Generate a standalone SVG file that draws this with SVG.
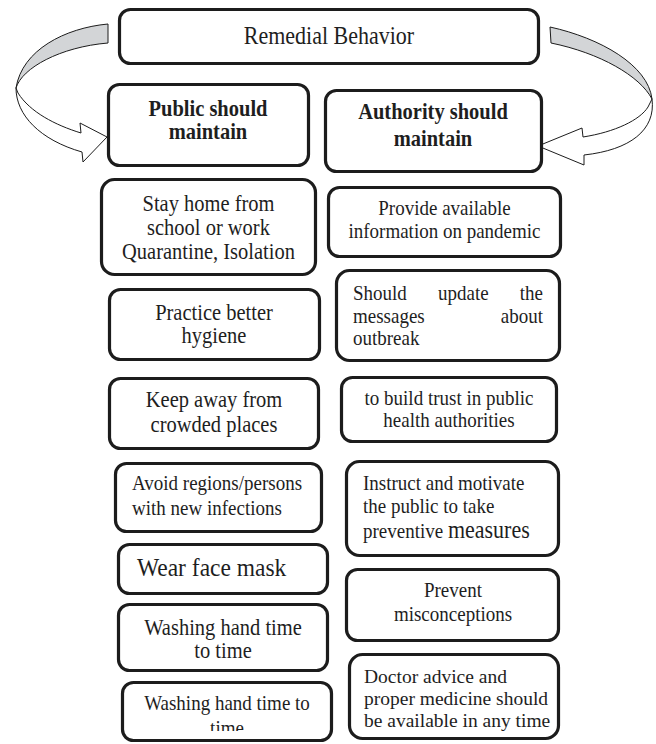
<svg xmlns="http://www.w3.org/2000/svg" width="656" height="744" viewBox="0 0 656 744">
<style>
.box{fill:#fff;stroke:#1c1c1c;stroke-width:3.2}
.t{font-family:"Liberation Serif","Times New Roman",serif;fill:#1e1e1e;font-size:19px;transform-box:fill-box;transform-origin:50% 76%;transform:scaleY(1.1)}
.c{text-anchor:middle}
.e{text-anchor:end}
.b{font-weight:bold;font-size:20.5px}
.m{font-size:20.5px}
.d{font-size:19.5px;transform:none}
.arr{stroke:#1c1c1c;stroke-width:1;stroke-linejoin:miter}
.back{fill:#d3d5d7}
.front{fill:#fff}
</style>
<defs>
<clipPath id="clipw2"><rect x="121" y="681" width="212" height="50"/></clipPath>
</defs>
<rect width="656" height="744" fill="#fff"/>

<g id="connectors">
  <g id="arrow-left">
    <path class="arr back" d="M108,24 C65,28 22,50 16,88 C22,68 60,47 108,43 Z"/>
    <path class="arr front" d="M16,88 C16,115 40,140 82,152 L83,162 L107,137 L80,123 L81,133 C55,125 30,112 18,93 Z"/>
  </g>
  <g id="arrow-right">
    <path class="arr back" d="M550,27 C600,38 648,65 652,99 C640,76 600,53 551,43 Z"/>
    <path class="arr front" d="M652,99 C656,130 630,150 584,155 L584,165 L538,146 L582,128 L583,137 C615,132 640,120 648,107 Z"/>
  </g>
</g>

<g id="remedial">
  <rect class="box" x="119.5" y="9.5" width="419" height="54" rx="11"/>
  <text class="t c" x="329" y="44" style="font-size:22px">Remedial Behavior</text>
</g>

<g id="public">
  <rect class="box" x="108.5" y="84.5" width="200" height="81" rx="11"/>
  <text class="t c b" x="208" y="116">Public should</text>
  <text class="t c b" x="208" y="139">maintain</text>
</g>

<g id="authority">
  <rect class="box" x="325.5" y="90.5" width="216" height="81" rx="11"/>
  <text class="t c b" x="433" y="119">Authority should</text>
  <text class="t c b" x="433" y="146">maintain</text>
</g>

<g id="stay-home">
  <rect class="box" x="101.5" y="179.5" width="214" height="95" rx="13"/>
  <text class="t c m" x="208.5" y="211">Stay home from</text>
  <text class="t c m" x="208.5" y="235">school or work</text>
  <text class="t c m" x="208.5" y="259">Quarantine, Isolation</text>
</g>

<g id="practice">
  <rect class="box" x="109.5" y="289.5" width="210" height="70" rx="11"/>
  <text class="t c m" x="214" y="320">Practice better</text>
  <text class="t c m" x="214" y="343">hygiene</text>
</g>

<g id="keep-away">
  <rect class="box" x="109.5" y="378.5" width="209" height="70" rx="11"/>
  <text class="t c m" x="214" y="407">Keep away from</text>
  <text class="t c m" x="214" y="432">crowded places</text>
</g>

<g id="avoid">
  <rect class="box" x="115.5" y="463.5" width="206" height="68" rx="11"/>
  <text class="t" x="132" y="490">Avoid regions/persons</text>
  <text class="t" x="132" y="515">with new infections</text>
</g>

<g id="mask">
  <rect class="box" x="118.5" y="544.5" width="209" height="49" rx="11"/>
  <text class="t" x="137" y="576" style="font-size:23.5px">Wear face mask</text>
</g>

<g id="washing-1">
  <rect class="box" x="118.5" y="604.5" width="209" height="66" rx="11"/>
  <text class="t c m" x="223" y="635">Washing hand time</text>
  <text class="t c m" x="223" y="658">to time</text>
</g>

<g id="washing-2">
  <rect class="box" x="122.5" y="682.5" width="209" height="58" rx="11"/>
  <text class="t c" x="227" y="710">Washing hand time to</text>
  <g clip-path="url(#clipw2)">
    <text class="t c" x="227" y="735">time</text>
  </g>
</g>

<g id="provide">
  <rect class="box" x="328.5" y="187.5" width="232" height="69" rx="11"/>
  <text class="t c" x="444.5" y="215">Provide available</text>
  <text class="t c" x="444.5" y="238">information on pandemic</text>
</g>

<g id="update">
  <rect class="box" x="336.5" y="270.5" width="223" height="90" rx="13"/>
  <text class="t" x="353" y="300">Should</text>
  <text class="t" x="438" y="300">update</text>
  <text class="t e" x="543" y="300">the</text>
  <text class="t" x="353" y="323">messages</text>
  <text class="t e" x="543" y="323">about</text>
  <text class="t" x="353" y="345">outbreak</text>
</g>

<g id="trust">
  <rect class="box" x="341.5" y="377.5" width="215" height="64" rx="11"/>
  <text class="t c" x="449" y="405">to build trust in public</text>
  <text class="t c" x="449" y="427">health authorities</text>
</g>

<g id="instruct">
  <rect class="box" x="346.5" y="461.5" width="212" height="94" rx="13"/>
  <text class="t" x="363" y="490">Instruct and motivate</text>
  <text class="t" x="363" y="513">the public to take</text>
  <text class="t" x="363" y="538">preventive <tspan style="font-size:22px">measures</tspan></text>
</g>

<g id="prevent">
  <rect class="box" x="346.5" y="569.5" width="212" height="71" rx="11"/>
  <text class="t c" x="453" y="597">Prevent</text>
  <text class="t c" x="453" y="621">misconceptions</text>
</g>

<g id="doctor">
  <rect class="box" x="349.5" y="654.5" width="209" height="84" rx="13"/>
  <text class="t d" x="364" y="683">Doctor advice and</text>
  <text class="t d" x="364" y="705">proper medicine should</text>
  <text class="t d" x="364" y="727">be available in any time</text>
</g>
</svg>
